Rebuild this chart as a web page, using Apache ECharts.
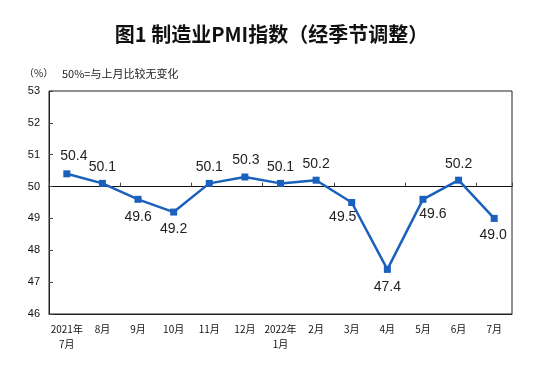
<!DOCTYPE html>
<html><head><meta charset="utf-8">
<script src="https://cdn.jsdelivr.net/npm/echarts@6/dist/echarts.min.js"></script>
<style>html,body{margin:0;padding:0;background:#fff}#c{width:543px;height:367px}</style>
</head><body><div id="c"></div>
<script>
const categories = ['2021年\n7月','8月','9月','10月','11月','12月','2022年\n1月','2月','3月','4月','5月','6月','7月'];
const pmiValues = [50.4, 50.1, 49.6, 49.2, 50.1, 50.3, 50.1, 50.2, 49.5, 47.4, 49.6, 50.2, 49.0];
const yTicks = [46, 47, 48, 49, 50, 51, 52, 53];

// label placement (style only)
const labelStyle = [
  {position:'top', offset:[7,-2]},
  {position:'top', offset:[0,-1]},
  {position:'bottom', offset:[0,2]},
  {position:'bottom', offset:[0,2]},
  {position:'top', offset:[0,-1]},
  {position:'top', offset:[1,-1]},
  {position:'top', offset:[0,-1]},
  {position:'top', offset:[0,-1]},
  {position:'bottom', offset:[-9,-1]},
  {position:'bottom', offset:[0,2]},
  {position:'bottom', offset:[10,-1]},
  {position:'top', offset:[0,-1]},
  {position:'bottom', offset:[-1,1]}
];

const chart = echarts.init(document.getElementById('c'), null, {renderer:'canvas'});
const gridTop = 91, gridBottom = 53, gridH = 367 - gridTop - gridBottom;
const yMin = yTicks[0], yMax = yTicks[yTicks.length-1];
const lineOffset = -gridH * (50 - yMin) / (yMax - yMin);

chart.setOption({
  animation:false,
  backgroundColor:'#fff',
  title:{
    text:'图1 制造业PMI指数（经季节调整）',
    left:'center', top:19,
    textStyle:{fontFamily:'Noto Sans CJK SC', fontSize:20, fontWeight:'bold', color:'#111'}
  },
  graphic:[
    {type:'text', left:24, top:68, style:{text:'（%）', fontFamily:'Noto Sans CJK SC', fontSize:10, fill:'#222'}},
    {type:'text', left:62, top:68, style:{text:'50%=与上月比较无变化', fontFamily:'Noto Sans CJK SC', fontSize:11, fill:'#222'}}
  ],
  grid:{left:49, right:31, top:gridTop, bottom:gridBottom, show:true, borderColor:'#222', borderWidth:1, backgroundColor:'transparent'},
  xAxis:[
    {type:'category', data:categories, boundaryGap:true, position:'bottom',
     axisLine:{show:true, lineStyle:{color:'#222', width:1}},
     axisTick:{show:false},
     axisLabel:{interval:0, fontFamily:'Noto Sans CJK SC', fontSize:10, color:'#111', margin:8, lineHeight:15}},
    {type:'category', data:categories, boundaryGap:true, position:'bottom', offset:lineOffset,
     axisLine:{show:true, lineStyle:{color:'#111', width:1}},
     axisTick:{show:true, inside:true, length:4, lineStyle:{color:'#444'}},
     axisLabel:{show:false}}
  ],
  yAxis:{type:'value', min:yMin, max:yMax, interval:1,
    axisLine:{show:true, lineStyle:{color:'#222'}},
    axisTick:{show:true, inside:true, length:4, lineStyle:{color:'#444'}},
    splitLine:{show:false},
    axisLabel:{fontFamily:'Liberation Sans', fontSize:11, color:'#111', margin:9}
  },
  series:[{
    type:'line', xAxisIndex:0,
    data:pmiValues.map((v,i)=>({value:v, label:labelStyle[i]})),
    symbol:'rect', symbolSize:7,
    lineStyle:{color:'#1a60bd', width:2.5},
    itemStyle:{color:'#1a60bd'},
    label:{show:true, fontFamily:'Liberation Sans', fontSize:14, color:'#222', formatter:p=>p.value.toFixed(1)}
  }]
});
</script></body></html>
